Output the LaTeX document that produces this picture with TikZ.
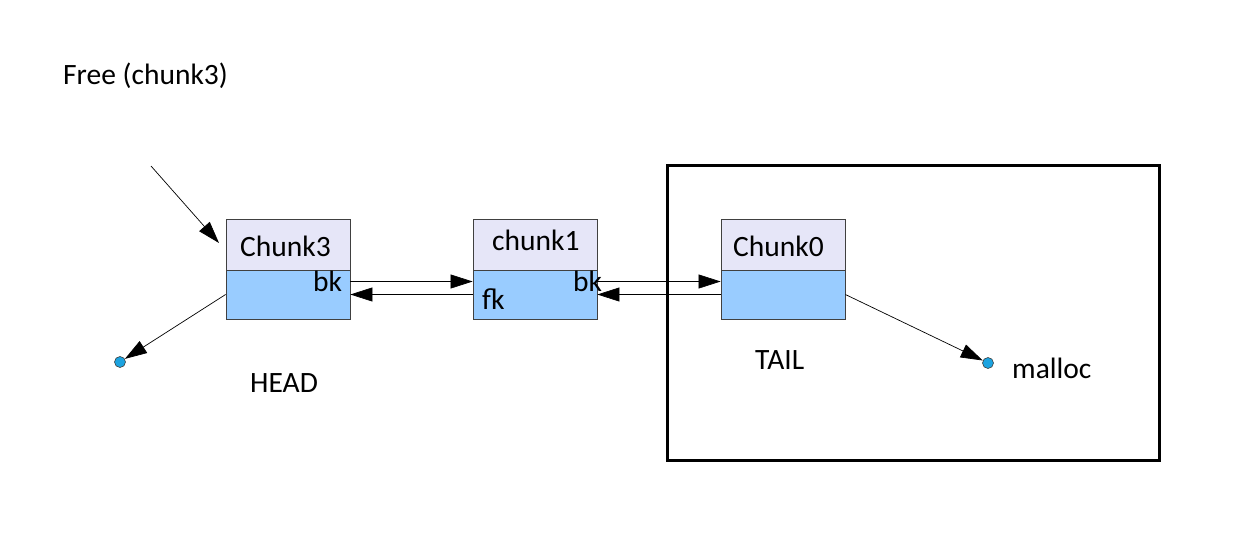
\documentclass[tikz,border=0pt]{standalone}
\usepackage{fontspec}
\setmainfont{Carlito}
\usetikzlibrary{arrows.meta}
\definecolor{toplav}{HTML}{E6E6F8}
\definecolor{botblue}{HTML}{99CCFF}
\definecolor{edgegray}{HTML}{404040}
\definecolor{dotblue}{HTML}{1CA3E0}
\begin{document}
\begin{tikzpicture}[x=1pt,y=-1pt,
  toppart/.style={draw=edgegray, fill=toplav, minimum width=124pt, minimum height=51pt, inner sep=0pt, line width=0.8pt},
  botpart/.style={draw=edgegray, fill=botblue, minimum width=124pt, minimum height=49pt, inner sep=0pt, line width=0.8pt},
  lbl/.style={font=\fontsize{29.5}{33}\selectfont, anchor=base west, inner sep=0pt},
  ptr/.style={draw=black, line width=0.7pt, -{Triangle[length=22pt,width=14pt]}},
  enddot/.style={circle, draw=edgegray, fill=dotblue, minimum size=11pt, inner sep=0pt, line width=0.6pt}
  ]
\useasboundingbox (0,0) rectangle (1248,538);
% tail frame
\node[draw=black, line width=3pt, minimum width=492pt, minimum height=295pt, inner sep=0pt] (frame) at (913,312.5) {};
% chunk boxes
\node[toppart] (c3top) at (288,244.5) {};
\node[botpart] (c3bot) at (288,294.5) {};
\node[toppart] (c1top) at (535,244.5) {};
\node[botpart] (c1bot) at (535,294.5) {};
\node[toppart] (c0top) at (783,244.5) {};
\node[botpart] (c0bot) at (783,294.5) {};
% labels
\node[lbl] (free) at (63,84) {Free (chunk3)};
\node[lbl] (t3) at (240,256) {Chunk3};
\node[lbl] (t1) at (492,250) {chunk1};
\node[lbl] (t0) at (733,256) {Chunk0};
\node[lbl] (bk3) at (313,291) {bk};
\node[lbl] (fk1) at (482,309) {fk};
\node[lbl] (bk1) at (573,291) {bk};
\node[lbl] (head) at (250,392) {HEAD};
\node[lbl] (tail) at (755,369) {TAIL};
\node[lbl] (mal) at (1012,378) {malloc};
% dots
\node[enddot] (d1) at (120,362) {};
\node[enddot] (d2) at (988,363) {};
% incoming pointer
\coordinate (inS) at (151,166);
\coordinate (inE) at (219,243);
\draw[ptr] (inS) -- (inE);
% links
\draw[ptr] ([yshift=13pt]c3bot.east) -- ([yshift=13pt]c1bot.west);
\draw[ptr] (c1bot.west) -- (c3bot.east);
\draw[ptr] ([yshift=13pt]c1bot.east) -- ([yshift=13pt]c0bot.west);
\draw[ptr] (c0bot.west) -- (c1bot.east);
% to dots
\draw[ptr] (c3bot.west) -- (d1);
\draw[ptr] (c0bot.east) -- (d2);
\end{tikzpicture}
\end{document}
